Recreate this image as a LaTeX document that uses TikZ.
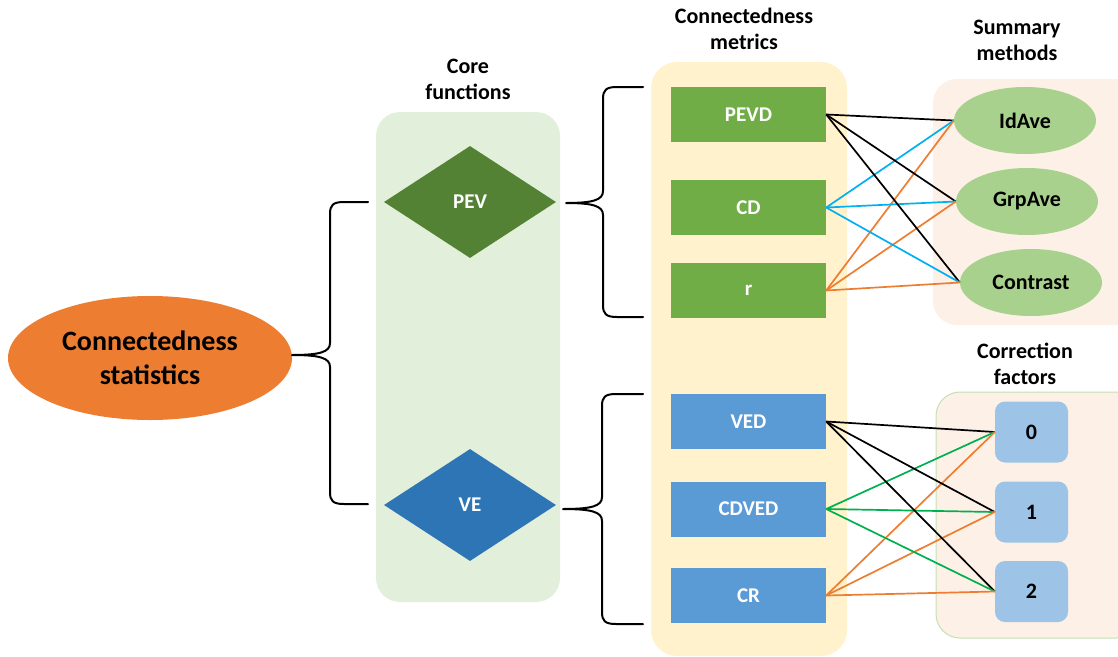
\documentclass[tikz,border=0pt]{standalone}
\usepackage{fontspec}
\setmainfont{Carlito}
\usetikzlibrary{shapes.geometric}

\definecolor{statorange}{HTML}{ED7D31}
\definecolor{corepanel}{HTML}{E2EFDA}
\definecolor{metricpanel}{HTML}{FFF2CC}
\definecolor{peachpanel}{HTML}{FDF0E7}
\definecolor{peachedge}{HTML}{C5E0B4}
\definecolor{pevgreen}{HTML}{548235}
\definecolor{veblue}{HTML}{2E75B6}
\definecolor{metricgreen}{HTML}{70AD47}
\definecolor{metricblue}{HTML}{5B9BD5}
\definecolor{methodgreen}{HTML}{A9D18E}
\definecolor{factorblue}{HTML}{9DC3E6}
\definecolor{linkcyan}{HTML}{00B0F0}
\definecolor{linkgreen}{HTML}{00B050}
\definecolor{linkorange}{HTML}{ED7D31}

% curly brace: tip x, tip y, spine x, top y, bottom y, arm end x
\newcommand{\curlybrace}[6]{%
  \draw[bracestyle] (#6,#4) -- ({#3+14},#4)
    .. controls ({#3+3},#4) and (#3,{#4+3}) .. (#3,{#4+12})
    -- (#3,{#2-12})
    .. controls (#3,{#2-3}) and ({#3-10},#2) .. (#1,#2)
    .. controls ({#3-10},#2) and (#3,{#2+3}) .. (#3,{#2+12})
    -- (#3,{#5-12})
    .. controls (#3,{#5-3}) and ({#3+3},#5) .. ({#3+14},#5)
    -- (#6,#5);}

\begin{document}
\begin{tikzpicture}[x=1pt,y=-1pt,
  bracestyle/.style={line width=2pt, black, line cap=round, line join=round},
  heading/.style={align=center, font=\fontsize{22}{26}\selectfont\bfseries},
  metricbox/.style={rectangle, minimum width=155pt, minimum height=55pt, inner sep=0pt,
    text=white, font=\fontsize{21}{25}\selectfont\bfseries},
  corediamond/.style={diamond, aspect=1.536, minimum width=172pt, minimum height=112pt,
    inner sep=0pt, text=white, font=\fontsize{21}{25}\selectfont\bfseries},
  methodnode/.style={ellipse, fill=methodgreen, minimum width=142pt, minimum height=67pt,
    inner sep=0pt, font=\fontsize{22}{26}\selectfont\bfseries},
  factornode/.style={rectangle, rounded corners=10pt, fill=factorblue, minimum width=73pt,
    minimum height=61pt, inner sep=0pt, font=\fontsize{22}{26}\selectfont\bfseries},
  link/.style={line width=1.7pt}]
\useasboundingbox (0,0) rectangle (1118,656);

% background panels
\fill[corepanel, rounded corners=24pt] (376,112) rectangle (560,602);
\fill[metricpanel, rounded corners=26pt] (651,62) rectangle (847,656);
\fill[peachpanel, rounded corners=24pt] (933,79) rectangle (1140,325);
\filldraw[fill=peachpanel, draw=peachedge, line width=1pt, rounded corners=24pt] (936,392) rectangle (1140,638);

% headings
\node[heading] (hcore) at (468,79) {Core\\functions};
\node[heading] (hmetric) at (744,29) {Connectedness\\metrics};
\node[heading] (hmethod) at (1017,40) {Summary\\methods};
\node[heading] (hfactor) at (1025,364) {Correction\\factors};

% main statistic
\node[ellipse, fill=statorange, minimum width=284pt, minimum height=124pt, inner sep=0pt,
  align=center, font=\fontsize{28}{34}\selectfont\bfseries] (stats) at (150,358)
  {Connectedness\\statistics};

% core functions
\node[corediamond, fill=pevgreen] (pev) at (470,202) {PEV};
\node[corediamond, fill=veblue] (ve) at (470,505) {VE};

% metrics
\node[metricbox, fill=metricgreen] (pevd) at (748.5,114.5) {PEVD};
\node[metricbox, fill=metricgreen] (cd) at (748.5,207.5) {CD};
\node[metricbox, fill=metricgreen] (r) at (748.5,290.5) {r};
\node[metricbox, fill=metricblue] (ved) at (748.5,421.5) {VED};
\node[metricbox, fill=metricblue] (cdved) at (748.5,509) {CDVED};
\node[metricbox, fill=metricblue] (cr) at (748.5,595.5) {CR};

% summary methods
\node[methodnode] (idave) at (1025,120.5) {IdAve};
\node[methodnode] (grpave) at (1027,201.5) {GrpAve};
\node[methodnode] (contrast) at (1031,282.5) {Contrast};

% correction factors
\node[factornode] (f0) at (1031.5,432) {0};
\node[factornode] (f1) at (1031.5,512) {1};
\node[factornode] (f2) at (1031.5,591.5) {2};

% braces
\curlybrace{292}{355}{330}{202}{504}{368}
\curlybrace{566}{203}{603}{87}{317}{643}
\curlybrace{563}{509}{602}{394}{624}{643}

% metric to summary method links
\foreach \m in {idave,grpave,contrast}{
  \draw[link, black] (pevd.east) -- (\m.west);
  \draw[link, linkcyan] (cd.east) -- (\m.west);
  \draw[link, linkorange] (r.east) -- (\m.west);
}
% metric to correction factor links
\foreach \f in {f0,f1,f2}{
  \draw[link, black] (ved.east) -- (\f.west);
  \draw[link, linkgreen] (cdved.east) -- (\f.west);
  \draw[link, linkorange] (cr.east) -- (\f.west);
}
\end{tikzpicture}
\end{document}
